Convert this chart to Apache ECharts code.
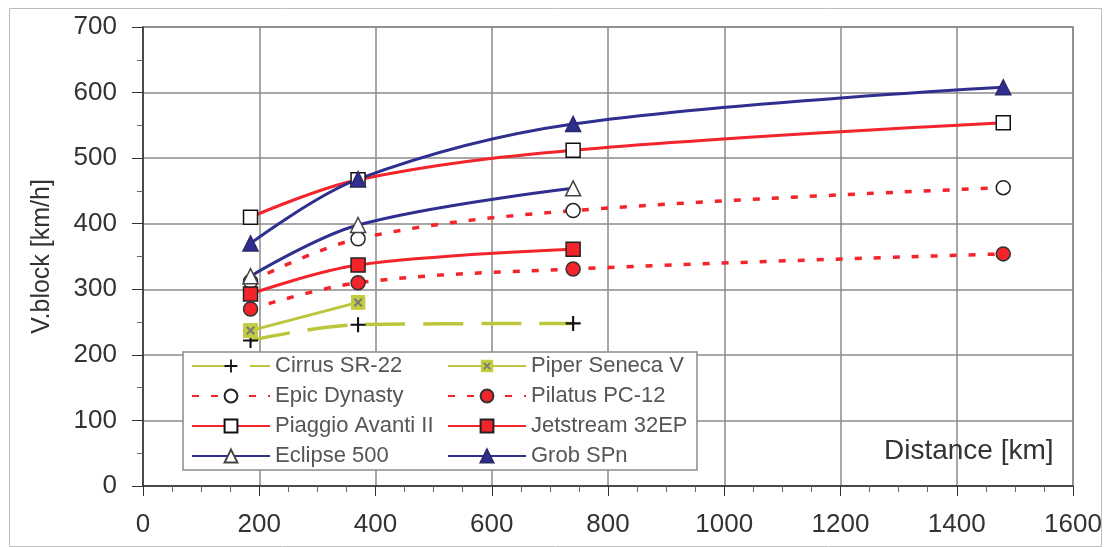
<!DOCTYPE html>
<html>
<head>
<meta charset="utf-8">
<script src="https://cdn.jsdelivr.net/npm/echarts@6/dist/echarts.min.js"></script>
<style>
  html, body { margin: 0; padding: 0; background: #fff; }
  #main { width: 1107px; height: 547px; }
</style>
</head>
<body>
<div id="main"></div>
<script>
// distances (km) at which the block speeds were read
var distances = [185, 370, 740, 1480];

// block speed values (km/h) per aircraft, null = no point
var cirrus    = [222, 246, 248, null];
var piper     = [237, 280, null, null];
var epic      = [312, 377, 420, 455];
var pilatus   = [270, 310, 331, 354];
var piaggio   = [410, 467, 512, 554];
var jetstream = [293, 337, 361, null];
var eclipse   = [320, 398, 454, null];
var grob      = [370, 468, 552, 608];

var xTicks = [0, 200, 400, 600, 800, 1000, 1200, 1400, 1600];
var yTicks = [0, 100, 200, 300, 400, 500, 600, 700];

var RED = '#f3242b';
var BLUE = '#2e2f8e';
var OLIVE = '#bcc53b';
var FONT = 'Liberation Sans, Arial, sans-serif';

// symbols
var plusPath = 'path://M4.3,0h1.4v4.3h4.3v1.4h-4.3v4.3h-1.4v-4.3h-4.3v-1.4h4.3z';
var piperSvg = "<svg xmlns='http://www.w3.org/2000/svg' width='16' height='16'>" +
    "<rect x='0' y='0' width='16' height='16' fill='#c3cc3f'/>" +
    "<path d='M4 4L12 12M12 4L4 12' stroke='#7a7a7a' stroke-width='2.2'/></svg>";
var piperSymbol = 'image://data:image/svg+xml;charset=utf-8,' + encodeURIComponent(piperSvg);

function pairs(vals) {
    var out = [];
    for (var i = 0; i < distances.length; i++) {
        if (vals[i] != null) out.push([distances[i], vals[i]]);
    }
    return out;
}

function mk(name, vals, color, lineType, symbol, fill, border, size, width) {
    return {
        name: name,
        type: 'line',
        data: pairs(vals),
        smooth: 0.35,
        symbol: symbol,
        symbolSize: size || 14,
        showAllSymbol: true,
        lineStyle: { color: color, width: width || 3, type: lineType },
        itemStyle: { color: fill, borderColor: border, borderWidth: 1.5 },
        emphasis: { disabled: true },
        z: 3
    };
}

var myChart = echarts.init(document.getElementById('main'));

var option = {
    backgroundColor: '#fff',
    animation: false,
    textStyle: { fontFamily: FONT },
    grid: {
        left: 143, right: 34, top: 27, bottom: 61,
        show: true, borderColor: '#8a8a8a', borderWidth: 1.5
    },
    legend: {
        left: 183, top: 352, width: 515,
        orient: 'horizontal',
        itemWidth: 78, itemHeight: 16, itemGap: 8,
        backgroundColor: '#fff',
        borderColor: '#8a8a8a', borderWidth: 1.5,
        borderRadius: 0,
        padding: [3, 2, 3, 8],
        textStyle: { fontSize: 22, color: '#555', width: 164, lineHeight: 18 },
        data: ['Cirrus SR-22', 'Piper Seneca V', 'Epic Dynasty', 'Pilatus PC-12',
               'Piaggio Avanti II', 'Jetstream 32EP', 'Eclipse 500', 'Grob SPn']
    },
    xAxis: {
        type: 'value', min: 0, max: 1600, interval: 200,
        axisLine: { show: true, lineStyle: { color: '#333', width: 1.5 } },
        axisTick: { show: true, length: 10, lineStyle: { color: '#333' } },
        minorTick: { show: true, splitNumber: 4, length: 6, lineStyle: { color: '#666' } },
        splitLine: { show: true, lineStyle: { color: '#8a8a8a', width: 1.5 } },
        axisLabel: { fontSize: 26, color: '#333', margin: 26,
            formatter: function (v) { return xTicks.indexOf(v) >= 0 ? String(v) : ''; } }
    },
    yAxis: {
        type: 'value', min: 0, max: 700, interval: 100,
        name: 'V.block [km/h]', nameLocation: 'middle', nameRotate: 90, nameGap: 88,
        nameTextStyle: { fontSize: 25, color: '#333' },
        axisLine: { show: true, lineStyle: { color: '#333', width: 1.5 } },
        axisTick: { show: true, length: 11, lineStyle: { color: '#333' } },
        minorTick: { show: true, splitNumber: 2, length: 6, lineStyle: { color: '#666' } },
        splitLine: { show: true, lineStyle: { color: '#8a8a8a', width: 1.5 } },
        axisLabel: { fontSize: 26, color: '#333', margin: 26,
            formatter: function (v) { return yTicks.indexOf(v) >= 0 ? String(v) : ''; } }
    },
    graphic: [
        { type: 'text', left: 884, top: 437, z: 10,
          style: { text: 'Distance [km]', fontSize: 28, fill: '#333', fontFamily: FONT } },
        { type: 'rect', left: 7, top: 6, z: -1, silent: true,
          shape: { width: 1092, height: 538 },
          style: { fill: 'none', stroke: '#bdbdbd', lineWidth: 1 } }
    ],
    series: [
        mk('Cirrus SR-22', cirrus, OLIVE, [40, 18], plusPath, '#111', 'transparent', 15, 3.5),
        mk('Piper Seneca V', piper, OLIVE, 'solid', piperSymbol, OLIVE, 'transparent', 15, 3),
        mk('Epic Dynasty', epic, RED, [7, 12], 'circle', '#fff', '#222', 14, 3.5),
        mk('Pilatus PC-12', pilatus, RED, [7, 12], 'circle', RED, '#333', 14, 3.5),
        mk('Piaggio Avanti II', piaggio, RED, 'solid', 'rect', '#fff', '#111', 14, 3),
        mk('Jetstream 32EP', jetstream, RED, 'solid', 'rect', RED, '#222', 14, 3),
        mk('Eclipse 500', eclipse, BLUE, 'solid', 'triangle', '#fff', '#444', 15, 3),
        mk('Grob SPn', grob, BLUE, 'solid', 'triangle', BLUE, '#2a2a6a', 15, 3)
    ]
};
myChart.setOption(option);
</script>
</body>
</html>
